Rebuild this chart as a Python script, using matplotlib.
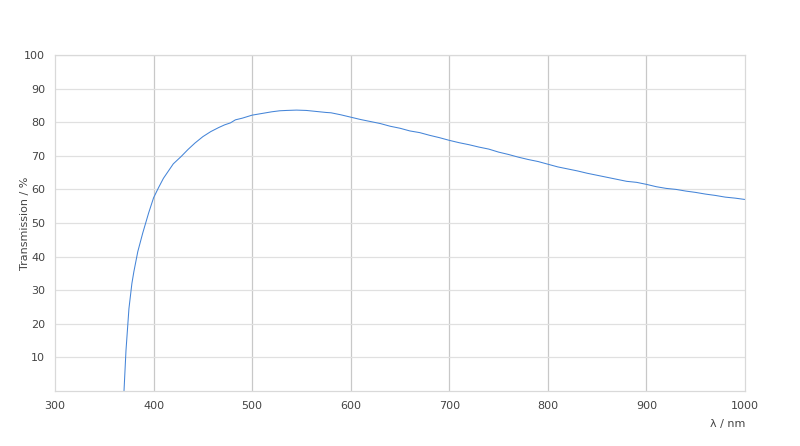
import numpy as np
import matplotlib
matplotlib.use("Agg")
import matplotlib.pyplot as plt

# transmission curve
wavelength = [370, 372, 375, 378, 380, 384, 389, 395, 400, 405, 410, 420, 428, 435,
              442, 450, 458, 466, 472, 478, 483, 490, 500, 510, 520, 528, 535, 545,
              555, 565, 575, 580, 590, 600, 610, 620, 630, 640, 650, 660, 670, 680,
              690, 700, 710, 720, 730, 740, 750, 760, 770, 780, 790, 800, 810, 820,
              830, 840, 850, 860, 870, 880, 890, 900, 910, 920, 930, 940, 950, 960,
              970, 980, 990, 1000]
transmission = [0.0, 12.0, 24.5, 32.0, 35.5, 41.5, 47.0, 53.0, 57.5, 60.5, 63.3, 67.6, 69.8, 71.9,
                73.8, 75.7, 77.2, 78.4, 79.2, 79.8, 80.7, 81.2, 82.1, 82.6, 83.1, 83.4, 83.5, 83.6,
                83.5, 83.2, 82.9, 82.8, 82.2, 81.5, 80.8, 80.2, 79.6, 78.8, 78.2, 77.4, 76.9, 76.1,
                75.4, 74.6, 73.9, 73.3, 72.6, 72.0, 71.1, 70.4, 69.6, 68.9, 68.3, 67.5, 66.7, 66.1,
                65.5, 64.8, 64.2, 63.6, 63.0, 62.4, 62.1, 61.5, 60.8, 60.3, 60.0, 59.5, 59.1, 58.6,
                58.2, 57.7, 57.4, 57.0]

xticks = [300, 400, 500, 600, 700, 800, 900, 1000]
yticks = [10, 20, 30, 40, 50, 60, 70, 80, 90, 100]

fig = plt.figure(figsize=(8, 4.46), dpi=100)
ax = fig.add_axes([55/800, 1-391/446, 690/800, 336/446])

ax.plot(wavelength, transmission, color="#4585d8", linewidth=0.75)

ax.set_xlim(300, 1000)
ax.set_ylim(0, 100)
ax.set_xticks(xticks)
ax.set_yticks(yticks)
ax.tick_params(length=0, labelsize=8, labelcolor="#444444", pad=7)

# vertical grid darker than horizontal grid
for x in xticks[1:-1]:
    ax.axvline(x, color="#c8c8c8", linewidth=0.9, zorder=0)
for y in yticks:
    ax.axhline(y, color="#e0e0e0", linewidth=0.9, zorder=0)

for s in ax.spines.values():
    s.set_color("#d9d9d9")
    s.set_linewidth(0.9)

ax.set_ylabel("Transmission / %", fontsize=8, color="#444444")
ax.yaxis.set_label_coords(-0.036, 0.5)
ax.set_xlabel("λ / nm", fontsize=8, color="#444444", loc="right", labelpad=6)

plt.savefig("out.png", dpi=100)
